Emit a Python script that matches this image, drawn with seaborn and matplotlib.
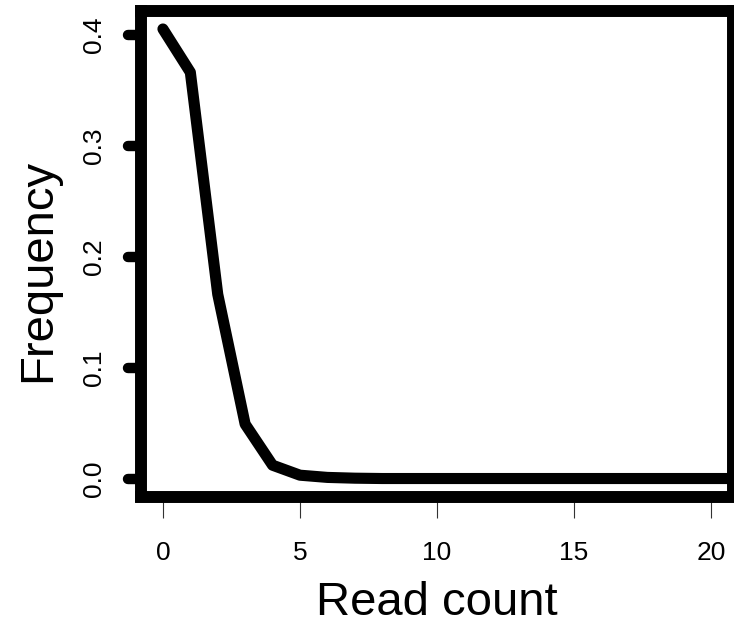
import numpy as np
import pandas as pd
import seaborn as sns
import matplotlib
matplotlib.use('Agg')
import matplotlib.pyplot as plt
from matplotlib.markers import MarkerStyle, TICKLEFT

# read count distribution (frequency per count)
read_count = list(range(0, 31))
frequency = [0.405, 0.366, 0.166, 0.049, 0.012, 0.003, 0.001, 0.0003] + [0.0] * 23

x_ticks = [0, 5, 10, 15, 20]
y_ticks = [0.0, 0.1, 0.2, 0.3, 0.4]
y_ticklabels = ['0.0', '0.1', '0.2', '0.3', '0.4']

df = pd.DataFrame({'count': read_count, 'freq': frequency})

sns.set_style('white')
plt.rcParams['font.family'] = ['Liberation Sans', 'DejaVu Sans']
plt.rcParams['text.color'] = 'black'
plt.rcParams['axes.labelcolor'] = 'black'

fig = plt.figure(figsize=(7.34, 6.24), dpi=100)
ax = fig.add_axes([141 / 734, 1 - 496.5 / 624, (733 - 141) / 734, (496.5 - 11) / 624])

sns.lineplot(data=df, x='count', y='freq', ax=ax, color='black', linewidth=8,
             solid_capstyle='round', solid_joinstyle='round')

# R-style limits: xlim = c(0, 20) plus 4% padding
ax.set_xlim(-0.8, 20.8)
fmax = max(frequency)
ax.set_ylim(-0.04 * fmax, fmax * 1.04)

for s in ax.spines.values():
    s.set_visible(True)
    s.set_linewidth(8.6)
    s.set_color('black')

ax.set_xticks(x_ticks)
ax.set_yticks(y_ticks)
ax.set_yticklabels(y_ticklabels, rotation=90, va='center')
ax.tick_params(axis='x', bottom=True, length=14.8, width=0.8, color='#333333',
               pad=17, labelsize=19, labelcolor='black')
ax.tick_params(axis='y', left=True, length=9.7, width=7.5, color='black',
               pad=15.5, labelsize=19, labelcolor='black')
for t in ax.yaxis.get_major_ticks():
    t.tick1line.set_marker(MarkerStyle(TICKLEFT, capstyle='round'))

ax.set_xlabel('Read count', fontsize=34, color='black')
ax.set_ylabel('Frequency', fontsize=34, color='black')
ax.xaxis.set_label_coords(0.5, -0.174)
ax.yaxis.set_label_coords(-0.137, 0.4666)

fig.savefig('out.png', dpi=100)
